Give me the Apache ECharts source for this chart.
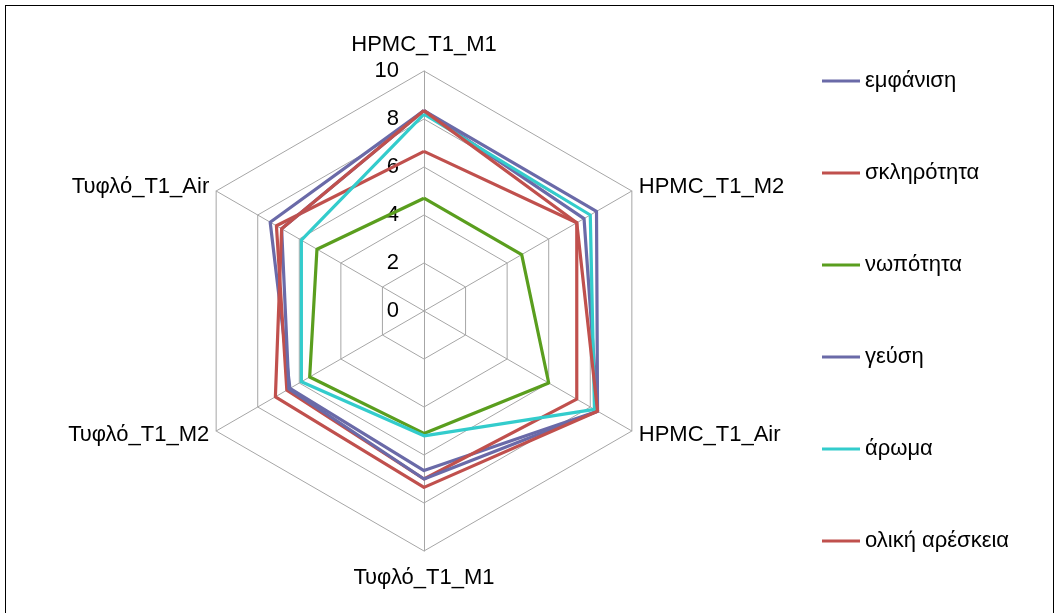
<!DOCTYPE html>
<html>
<head>
<meta charset="utf-8">
<script src="https://cdn.jsdelivr.net/npm/echarts@6/dist/echarts.min.js"></script>
<style>
  html, body { margin: 0; padding: 0; background: #fff; }
  #frame { position: absolute; left: 5px; top: 5px; width: 1049px; height: 640px; border: 1px solid #000; box-sizing: border-box; }
  #chart { position: absolute; left: 0; top: 0; width: 1060px; height: 613px; }
</style>
</head>
<body>
<div id="frame"></div>
<div id="chart"></div>
<script>
// Samples, listed clockwise from the top of the web
const samples = ['HPMC_T1_M1', 'HPMC_T1_M2', 'HPMC_T1_Air', 'Τυφλό_T1_M1', 'Τυφλό_T1_M2', 'Τυφλό_T1_Air'];

// Sensory attributes (one line each)
const attributes = ['εμφάνιση', 'σκληρότητα', 'νωπότητα', 'γεύση', 'άρωμα', 'ολική αρέσκεια'];

// Mean scores per attribute, same order as samples
const emfanisi   = [8.35, 8.3, 8.35, 6.65, 6.45, 7.4];
const sklirotita = [6.65, 7.35, 7.35, 7.0, 6.6, 7.1];
const nopotita   = [4.7, 4.7, 6.0, 5.1, 5.5, 5.15];
const geusi      = [8.35, 7.7, 8.35, 7.0, 6.5, 6.85];
const aroma      = [8.2, 8.0, 8.2, 5.2, 5.9, 5.9];
const oliki      = [8.35, 7.35, 8.35, 7.35, 7.15, 6.85];

// Scale of the web
const scaleTicks = [0, 2, 4, 6, 8, 10];

const seriesValues = [emfanisi, sklirotita, nopotita, geusi, aroma, oliki];
const colors = ['#6A6AA8', '#C0504D', '#5A9E1E', '#6A6AA8', '#33CCCC', '#C0504D'];

// ECharts lays radar indicators out counter-clockwise; reorder so samples run clockwise
const order = [0, 5, 4, 3, 2, 1];
const reorder = arr => order.map(i => arr[i]);

const FONT = 'Liberation Sans, Arial, sans-serif';
const FS = 22;
const center = [424, 311];
const radius = 240;
const maxVal = scaleTicks[scaleTicks.length - 1];

const chart = echarts.init(document.getElementById('chart'), null, { renderer: 'canvas' });

chart.setOption({
  animation: false,
  color: colors,
  textStyle: { fontFamily: FONT },
  legend: {
    data: attributes,
    orient: 'vertical',
    left: 817,
    top: 65,
    padding: 5,
    itemWidth: 38,
    itemHeight: 3,
    itemGap: 70,
    icon: 'rect',
    textStyle: { fontSize: FS, lineHeight: 22, color: '#000', fontFamily: FONT }
  },
  radar: {
    center: center,
    radius: radius,
    startAngle: 90,
    splitNumber: 5,
    shape: 'polygon',
    indicator: reorder(samples).map(n => ({ name: n, min: 0, max: maxVal })),
    axisName: { color: '#000', fontSize: FS, fontFamily: FONT, padding: [8, 0, 7, 0] },
    nameGap: 8,
    axisLine: { lineStyle: { color: '#A6A6A6', width: 1 } },
    splitLine: { lineStyle: { color: '#A6A6A6', width: 1 } },
    splitArea: { show: false },
    axisTick: { show: false },
    axisLabel: { show: false }
  },
  polar: { center: center, radius: radius },
  angleAxis: { show: false, startAngle: 90, min: 0, max: 360 },
  radiusAxis: {
    min: scaleTicks[0],
    max: maxVal,
    interval: scaleTicks[1] - scaleTicks[0],
    axisLine: { show: false },
    axisTick: { show: false },
    splitLine: { show: false },
    axisLabel: { show: true, fontSize: FS, color: '#000', fontFamily: FONT, margin: 25 }
  },
  series: [{
    type: 'radar',
    symbol: 'none',
    lineStyle: { width: 3 },
    data: seriesValues.map((v, i) => ({
      name: attributes[i],
      value: reorder(v),
      lineStyle: { color: colors[i], width: 3.2 },
      itemStyle: { color: colors[i] }
    }))
  }]
});
</script>
</body>
</html>
